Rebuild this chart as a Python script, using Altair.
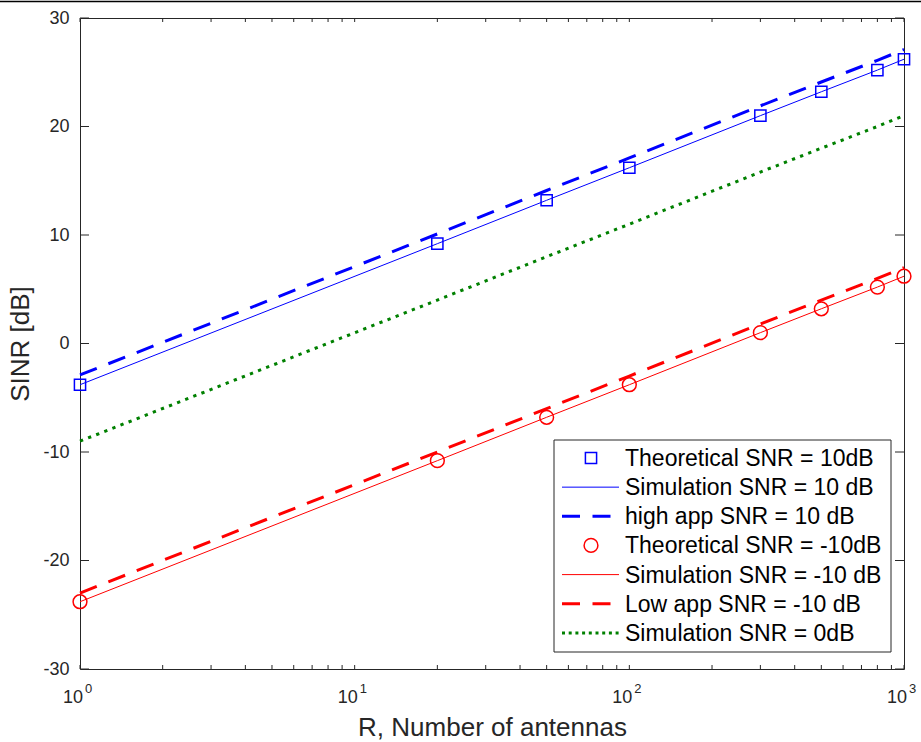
import altair as alt
import pandas as pd

# ---- data ----
R = [1, 20, 50, 100, 300, 500, 800, 1000]
theo_10 = [-3.8, 9.2, 13.2, 16.2, 21.0, 23.2, 25.2, 26.2]
sim_10 = [-3.8, 9.2, 13.2, 16.2, 21.0, 23.2, 25.2, 26.2]
high_10 = [-2.9, 10.1, 14.1, 17.1, 21.9, 24.1, 26.1, 27.1]
theo_m10 = [-23.8, -10.8, -6.8, -3.8, 1.0, 3.2, 5.2, 6.2]
sim_m10 = [-23.8, -10.8, -6.8, -3.8, 1.0, 3.2, 5.2, 6.2]
low_m10 = [-23.0, -10.0, -6.0, -3.0, 1.8, 4.0, 6.0, 7.0]
sim_0 = [-9.0, 4.0, 8.0, 11.0, 15.8, 18.0, 20.0, 21.0]

legend_labels = [
    "Theoretical SNR = 10dB",
    "Simulation SNR = 10 dB",
    "high app SNR = 10 dB",
    "Theoretical SNR = -10dB",
    "Simulation SNR = -10 dB",
    "Low app SNR = -10 dB",
    "Simulation SNR = 0dB",
]
y_ticks = [-30, -20, -10, 0, 10, 20, 30]
x_decades = [0, 1, 2, 3]

# ---- layout / style ----
W, H = 824, 651
FONT = "Liberation Sans"
AX = "#262626"
BLUE, RED, GREEN = "#0000ff", "#ff0000", "#008000"

xscale = alt.Scale(type="log", domain=[1, 1000], nice=False)
yscale = alt.Scale(domain=[-30, 30], nice=False, zero=False)

x_axis = alt.Axis(title="R, Number of antennas", labels=False, ticks=False, domain=False,
                  grid=False, titleFont=FONT, titleFontSize=26, titleFontWeight="normal",
                  titleColor=AX, titlePadding=45)
y_axis = alt.Axis(title="SINR [dB]", values=y_ticks, ticks=False, domain=False, grid=False,
                  labelFont=FONT, labelFontSize=18, labelColor=AX, labelPadding=11,
                  labelExpr="datum.value < 0 ? '-' + abs(datum.value) : '' + datum.value",
                  titleFont=FONT, titleFontSize=26, titleFontWeight="normal",
                  titleColor=AX, titlePadding=9)

def X(field):
    return alt.X(f"{field}:Q", scale=xscale, axis=x_axis)

def Y(field):
    return alt.Y(f"{field}:Q", scale=yscale, axis=y_axis)

def line_layer(vals, color, width, dash=None):
    df = pd.DataFrame({"R": R, "SINR": vals})
    kw = dict(color=color, strokeWidth=width)
    if dash:
        kw["strokeDash"] = dash
    return alt.Chart(df).mark_line(**kw).encode(x=X("R"), y=Y("SINR"))

def point_layer(vals, color, shape, size):
    df = pd.DataFrame({"R": R, "SINR": vals})
    return alt.Chart(df).mark_point(shape=shape, filled=False, color=color, size=size,
                                    strokeWidth=1.5, opacity=1).encode(x=X("R"), y=Y("SINR"))

DASH = [18, 12.5]
DOT = [3.3, 5.4]
LEG_DOT = [3, 3.7]
SQ_SIZE, CI_SIZE = 125, 190

layers = [
    point_layer(theo_10, BLUE, "square", SQ_SIZE),
    line_layer(sim_10, BLUE, 1),
    line_layer(high_10, BLUE, 3, DASH),
    point_layer(theo_m10, RED, "circle", CI_SIZE),
    line_layer(sim_m10, RED, 1),
    line_layer(low_m10, RED, 3, DASH),
    line_layer(sim_0, GREEN, 3, DOT),
]

# ---- inward ticks ----
xt = pd.DataFrame({"t": [m * 10 ** k for k in range(3) for m in range(1, 10)] + [1000]})
yt = pd.DataFrame({"t": y_ticks})
layers += [
    alt.Chart(xt).mark_rule(color=AX, strokeWidth=1).encode(x=X("t"), y=alt.value(H), y2=alt.value(H - 4)),
    alt.Chart(xt).mark_rule(color=AX, strokeWidth=1).encode(x=X("t"), y=alt.value(0), y2=alt.value(4)),
    alt.Chart(yt).mark_rule(color=AX, strokeWidth=1).encode(y=Y("t"), x=alt.value(0), x2=alt.value(9)),
    alt.Chart(yt).mark_rule(color=AX, strokeWidth=1).encode(y=Y("t"), x=alt.value(W - 9), x2=alt.value(W)),
]

# ---- x tick labels 10^k ----
xl = pd.DataFrame({"R": [10 ** p for p in x_decades], "base": ["10"] * len(x_decades),
                   "exp": [str(p) for p in x_decades]})
layers += [
    alt.Chart(xl).mark_text(align="right", baseline="alphabetic", dx=3, font=FONT, fontSize=18,
                            color=AX).encode(x=X("R"), y=alt.value(H + 34), text="base:N"),
    alt.Chart(xl).mark_text(align="left", baseline="alphabetic", dx=5, font=FONT, fontSize=13,
                            color=AX).encode(x=X("R"), y=alt.value(H + 24), text="exp:N"),
]

# ---- top page rule ----
dummy = pd.DataFrame({"a": [0]})
layers.append(alt.Chart(dummy).mark_rule(color="black", strokeWidth=1.5).encode(
    x=alt.value(-80), x2=alt.value(W + 17), y=alt.value(-16.5)))

# ---- legend (manual) ----
LX0, LX1, LY0, LY1 = 474, 811, 422, 634
layers.append(alt.Chart(dummy).mark_rect(fill="white", stroke=AX, strokeWidth=1).encode(
    x=alt.value(LX0), x2=alt.value(LX1), y=alt.value(LY0), y2=alt.value(LY1)))

styles = [
    ("point", BLUE, "square", SQ_SIZE, None, None),
    ("line", BLUE, None, None, 1, None),
    ("line", BLUE, None, None, 3, DASH),
    ("point", RED, "circle", CI_SIZE, None, None),
    ("line", RED, None, None, 1, None),
    ("line", RED, None, None, 3, DASH),
    ("line", GREEN, None, None, 3, LEG_DOT),
]
for i, (label, st) in enumerate(zip(legend_labels, styles)):
    yc = 440 + 29.15 * i
    kind, color, shape, size, sw, dash = st
    if kind == "point":
        layers.append(alt.Chart(dummy).mark_point(shape=shape, filled=False, color=color, size=size,
                                                  strokeWidth=1.5, opacity=1).encode(
            x=alt.value(511), y=alt.value(yc)))
    else:
        kw = dict(color=color, strokeWidth=sw)
        if dash:
            kw["strokeDash"] = dash
        layers.append(alt.Chart(dummy).mark_rule(**kw).encode(
            x=alt.value(482), x2=alt.value(539), y=alt.value(yc)))
    layers.append(alt.Chart(dummy).mark_text(align="left", baseline="alphabetic", font=FONT,
                                             fontSize=23, color="black").encode(
        x=alt.value(545), y=alt.value(yc + 8), text=alt.value(label)))

chart = alt.layer(*layers).properties(
    width=W, height=H,
    padding={"left": 80, "top": 18, "right": 17, "bottom": 73},
    autosize=alt.AutoSizeParams(type="none"),
    background="white",
).configure_view(stroke=AX, strokeWidth=1)

chart.save("out.html", embed_options={"renderer": "svg", "actions": False})
